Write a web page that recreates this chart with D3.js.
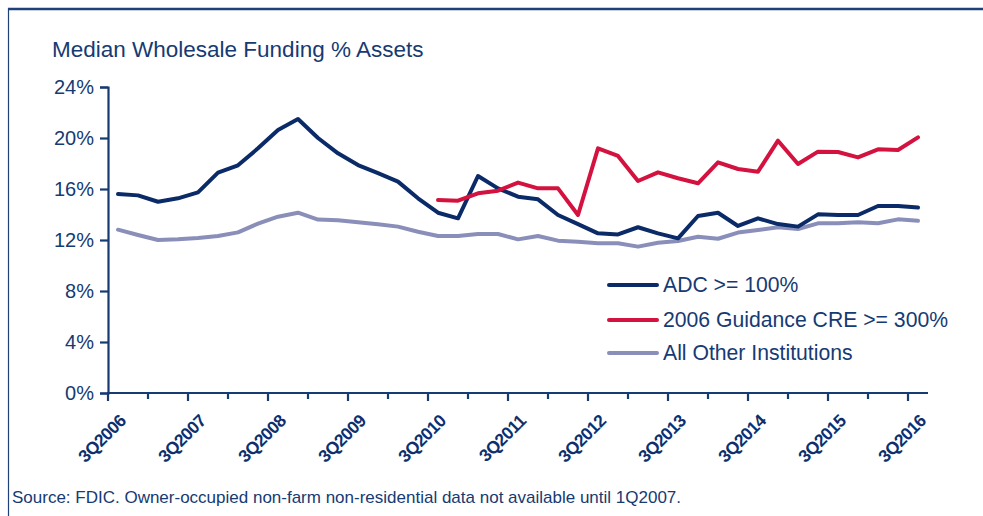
<!DOCTYPE html>
<html>
<head>
<meta charset="utf-8">
<script src="https://cdnjs.cloudflare.com/ajax/libs/d3/7.8.5/d3.min.js"></script>
<style>
  html, body { margin: 0; padding: 0; background: #fff; }
  svg { display: block; }
  text { font-family: "Liberation Sans", Arial, sans-serif; }
</style>
</head>
<body>
<svg id="chart" width="983" height="516"></svg>
<script>
const quarters = [
  "3Q2006","4Q2006","1Q2007","2Q2007","3Q2007","4Q2007","1Q2008","2Q2008",
  "3Q2008","4Q2008","1Q2009","2Q2009","3Q2009","4Q2009","1Q2010","2Q2010",
  "3Q2010","4Q2010","1Q2011","2Q2011","3Q2011","4Q2011","1Q2012","2Q2012",
  "3Q2012","4Q2012","1Q2013","2Q2013","3Q2013","4Q2013","1Q2014","2Q2014",
  "3Q2014","4Q2014","1Q2015","2Q2015","3Q2015","4Q2015","1Q2016","2Q2016",
  "3Q2016"
];
const tickLabels = ["3Q2006","3Q2007","3Q2008","3Q2009","3Q2010","3Q2011",
  "3Q2012","3Q2013","3Q2014","3Q2015","3Q2016"];
const yTicks = [0, 4, 8, 12, 16, 20, 24];

const adc = [15.6,15.5,15.0,15.27,15.74,17.28,17.86,19.19,20.63,21.49,
  20.0,18.8,17.88,17.25,16.58,15.27,14.14,13.7,17.02,16.05,
  15.4,15.19,13.96,13.25,12.52,12.44,13.0,12.52,12.13,13.88,
  14.14,13.1,13.7,13.25,13.05,14.01,13.96,13.96,14.67,14.67,14.54];
const cre = [null,null,null,null,null,null,null,null,null,null,
  null,null,null,null,null,null,15.14,15.08,15.66,15.87,
  16.5,16.05,16.05,13.96,19.19,18.59,16.63,17.31,16.84,16.45,
  18.09,17.57,17.36,19.79,17.96,18.93,18.9,18.48,19.11,19.06,20.05];
const other = [12.81,12.39,12.0,12.05,12.16,12.31,12.6,13.28,13.83,14.14,
  13.6,13.54,13.39,13.23,13.05,12.65,12.31,12.31,12.47,12.47,
  12.05,12.31,11.95,11.87,11.74,11.74,11.48,11.78,11.92,12.26,
  12.1,12.58,12.78,13.0,12.86,13.31,13.31,13.39,13.31,13.62,13.51];

const seriesNames = ["ADC >= 100%", "2006 Guidance CRE >= 300%", "All Other Institutions"];
const seriesColors = ["#0b2b68", "#d4123f", "#8a8fba"];

const navy = "#163a72";
const svg = d3.select("#chart");

// frame
svg.append("line").attr("x1", 8).attr("x2", 983).attr("y1", 9).attr("y2", 9)
  .attr("stroke", "#1f4079").attr("stroke-width", 2.5);
svg.append("line").attr("x1", 8.5).attr("x2", 8.5).attr("y1", 8).attr("y2", 516)
  .attr("stroke", "#1f4079").attr("stroke-width", 1.2);

// title
svg.append("text").attr("x", 52).attr("y", 57)
  .attr("font-size", 22.5).attr("fill", navy)
  .text("Median Wholesale Funding % Assets");

const x = d3.scaleBand().domain(quarters).range([108, 928]);
const y = d3.scaleLinear().domain([0, 24]).range([393, 87]);

// y axis
const yAxis = svg.append("g").attr("transform", "translate(108,0)")
  .call(d3.axisLeft(y).tickValues(yTicks).tickFormat(d => d + "%").tickSizeOuter(0).tickSize(8).tickPadding(6));
yAxis.select(".domain").attr("stroke", navy).attr("stroke-width", 2.2);
yAxis.selectAll(".tick line").attr("stroke", navy).attr("stroke-width", 2.2);
yAxis.selectAll(".tick text").attr("fill", navy).attr("font-size", 20)
  .attr("font-family", "Liberation Sans, Arial, sans-serif");

// x axis baseline
const xg = svg.append("g");
xg.append("line").attr("x1", 107).attr("x2", 928).attr("y1", y(0)).attr("y2", y(0))
  .attr("stroke", navy).attr("stroke-width", 2.2);
quarters.forEach((q, i) => {
  if (i % 2 !== 0) return;
  const tx = x(q);
  const major = i % 4 === 0;
  xg.append("line").attr("x1", tx).attr("x2", tx).attr("y1", y(0)).attr("y2", y(0) + (major ? 8 : 6))
    .attr("stroke", navy).attr("stroke-width", 2.2);
});
tickLabels.forEach(lbl => {
  const tx = x(lbl) + 19;
  xg.append("text").attr("transform", `translate(${tx},422) rotate(-45)`)
    .attr("text-anchor", "end").attr("font-size", 17.5).attr("font-weight", "bold")
    .attr("letter-spacing", -0.6)
    .attr("fill", "#0e2f6b").text(lbl);
});

// lines
const line = d3.line()
  .defined(d => d.v !== null)
  .x(d => x(d.q) + x.bandwidth() / 2)
  .y(d => y(d.v));
const allSeries = [adc, cre, other];
// draw order: other (back), adc, cre
[2, 0, 1].forEach(si => {
  const data = quarters.map((q, i) => ({ q, v: allSeries[si][i] }));
  svg.append("path").datum(data).attr("d", line)
    .attr("fill", "none").attr("stroke", seriesColors[si]).attr("stroke-width", 4)
    .attr("stroke-linejoin", "round").attr("stroke-linecap", "round");
});

// legend
const legY = [285, 320, 353];
seriesNames.forEach((n, i) => {
  svg.append("line").attr("x1", 609).attr("x2", 657).attr("y1", legY[i]).attr("y2", legY[i])
    .attr("stroke", seriesColors[i]).attr("stroke-width", 4).attr("stroke-linecap", "round");
  svg.append("text").attr("x", 663).attr("y", legY[i] + 7).attr("font-size", 21.2)
    .attr("fill", navy).text(n);
});

// source
svg.append("text").attr("x", 12).attr("y", 503).attr("font-size", 17)
  .attr("fill", navy)
  .text("Source: FDIC. Owner-occupied non-farm non-residential data not available until 1Q2007.");
</script>
</body>
</html>
